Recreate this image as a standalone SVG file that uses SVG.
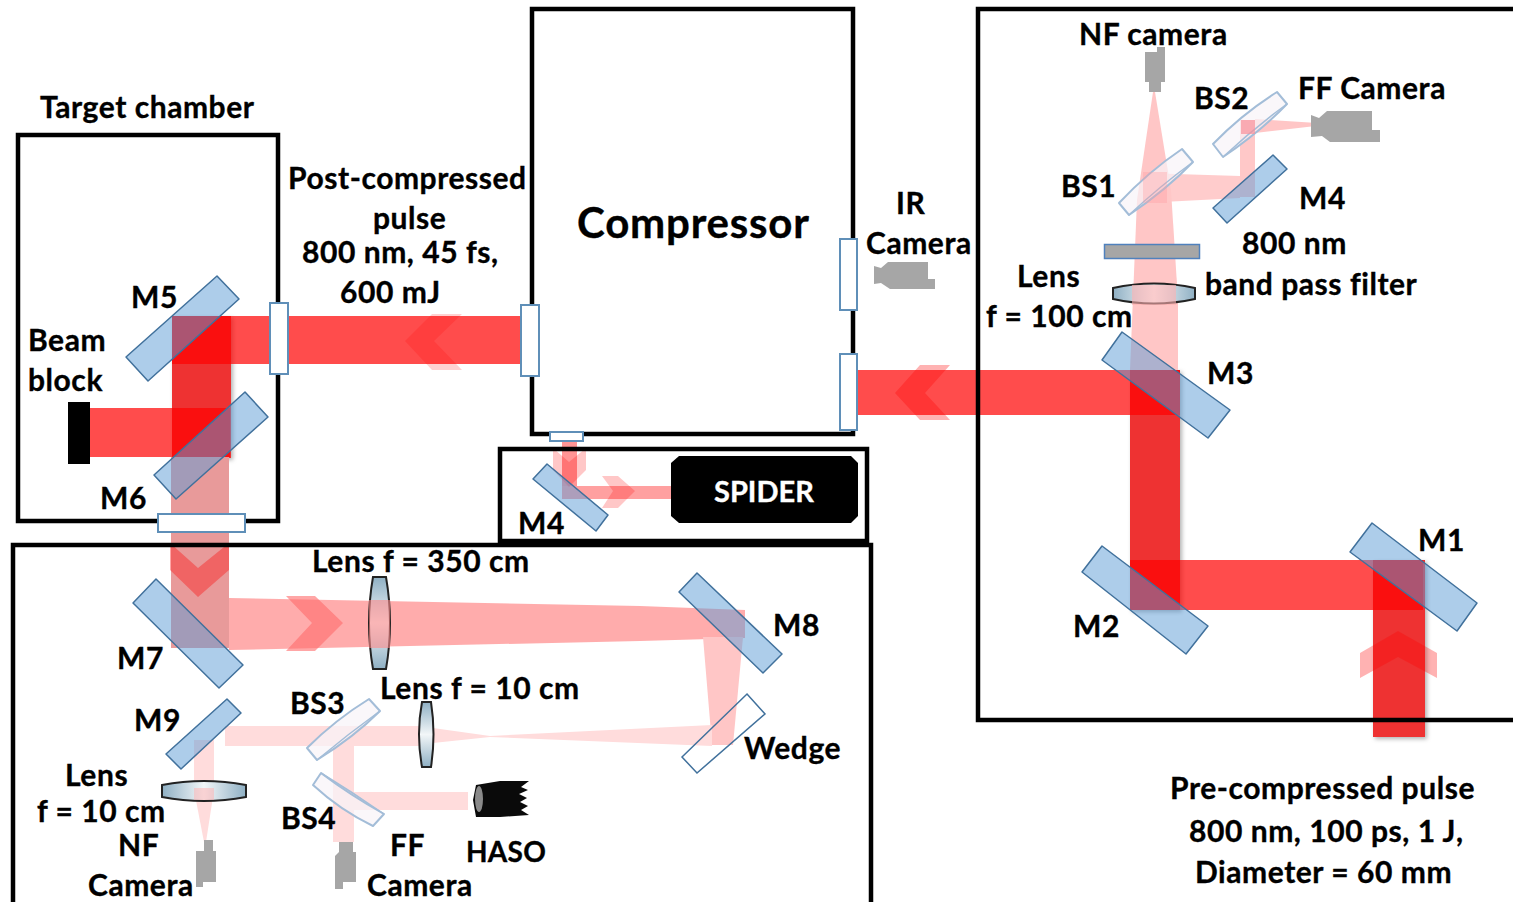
<svg xmlns="http://www.w3.org/2000/svg" width="1513" height="902" viewBox="0 0 1513 902">
<style>
text{font-family:"Lato","Open Sans","Liberation Sans",sans-serif;font-weight:700;font-size:30px;letter-spacing:.55px;fill:#000;stroke:#000;stroke-width:.35;transform:translateY(1px)}
.box{fill:none;stroke:#000;stroke-width:4.5}
.m{fill:#5b9bd5;fill-opacity:.5;stroke:#41719c;stroke-width:1.5;stroke-linejoin:round}
.bs{fill:#f8f4f8;fill-opacity:.7;stroke:#a3bdd8;stroke-width:2;stroke-linejoin:round}
.bsl{fill:none;stroke:#a3bdd8;stroke-width:1.5}
.w{fill:#fff;stroke:#5f8fb8;stroke-width:2}
.wedge{fill:none;stroke:#41719c;stroke-width:1.5}
.r{fill:#f00;fill-opacity:.7}
.rd{fill:#ee3333;filter:url(#sh)}
.p{fill:#ffa0a0;fill-opacity:.88}
.pv{fill:#e89a9a}
.l{fill:#ffc6c6}
.vl{fill:#ffdcdc}
.cam{fill:#a6a6a6}
.lens{fill:url(#lg);stroke:#222;stroke-width:2}
.lensv{fill:url(#lgv);stroke:#222;stroke-width:2}
</style>
<defs>
<linearGradient id="lg" x1="0" x2="1" y1="0" y2="0"><stop offset="0" stop-color="#8fb0c4"/><stop offset=".5" stop-color="#f2f6f8"/><stop offset="1" stop-color="#8fb0c4"/></linearGradient>
<linearGradient id="lgv" x1="0" x2="0" y1="0" y2="1"><stop offset="0" stop-color="#8fb0c4"/><stop offset=".5" stop-color="#f2f6f8"/><stop offset="1" stop-color="#8fb0c4"/></linearGradient>
<filter id="sh" x="-20%" y="-20%" width="140%" height="140%"><feDropShadow dx="2" dy="2" stdDeviation="2" flood-color="#000" flood-opacity=".3"/></filter>
</defs>
<rect width="1513" height="902" fill="#fff"/>

<g id="connectors">
<!-- main beams -->
<rect class="rd" x="1373" y="560" width="52" height="177"/>
<rect class="rd" x="1130" y="370" width="50" height="240"/>
<rect class="rd" x="172" y="316" width="59" height="142"/>
<rect class="r" x="1130" y="560" width="293" height="50"/>
<rect class="r" x="858" y="370" width="322" height="45"/>
<polygon fill="#f00" fill-opacity=".3" points="1360,653 1398,631 1437,653 1437,678 1398,657 1360,678"/>
<polygon fill="#f00" fill-opacity=".3" points="920,365 950,365 925,393 950,420 920,420 895,393"/>
<!-- top pale -->
<polygon class="l" points="1130,370 1178,370 1178,300 1171,190 1155,92 1153,92 1137,200"/>
<polygon class="l" fill-opacity=".9" points="1143,173 1240,176 1240,198 1143,203"/>
<rect x="1240" y="120" width="15" height="77" fill="#ffaaaa" fill-opacity=".65"/>
<polygon class="l" points="1255,119 1333,124 1255,133"/>
<!-- post compression -->
<rect class="r" x="172" y="316" width="348" height="48"/>
<rect class="r" x="90" y="408" width="140" height="49"/>
<polygon fill="#f00" fill-opacity=".18" points="432,314 462,314 434,341 462,370 432,370 405,341"/>
<rect class="pv" x="171" y="457" width="58" height="191"/>
<polygon fill="#f00" fill-opacity=".35" points="170,543 198,568 229,543 229,570 198,597 170,570"/>
<polygon class="p" points="229,598 640,606 745,610 745,638 640,641 229,650"/>
<polygon fill="#ff6a6a" fill-opacity=".6" points="286,596 315,596 343,623 315,651 286,651 312,623"/>
<polygon class="l" points="703,637 743,637 733,745 712,745"/>
<polygon class="vl" points="712,725 490,736 433,728 433,743 490,737 712,746"/>
<rect class="vl" x="225" y="726" width="194" height="20"/>
<rect class="vl" x="194" y="740" width="20" height="50"/>
<polygon class="vl" points="194,790 214,790 206,842 204,842"/>
<rect class="vl" x="333" y="741" width="21" height="101"/>
<rect class="vl" x="353" y="792" width="115" height="18"/>
<!-- spider -->
<rect x="562" y="441" width="15" height="57" fill="#ff7a7a" fill-opacity=".8"/>
<rect x="562" y="486" width="109" height="13" fill="#ffa0a0"/>
<polygon fill="#f00" fill-opacity=".22" points="553,448 569,462 586,448 586,470 569,487 553,470"/>
<polygon fill="#f00" fill-opacity=".22" points="602,476 618,476 635,491 618,508 602,508 613,491"/>
</g>

<g id="target-chamber"><rect class="box" x="18" y="135" width="260" height="386"/><text x="40" y="117">Target chamber</text></g>
<g id="compressor"><rect class="box" x="532" y="9" width="321" height="425"/><text x="577" y="237" style="font-size:42px;letter-spacing:.8px">Compressor</text></g>
<g id="right-box"><path class="box" d="M1513,9H978V720H1513"/></g>
<g id="spider-box"><rect class="box" x="500" y="449" width="367" height="92"/></g>
<g id="bottom-box"><path class="box" d="M13,902V545H871V902"/></g>

<g id="M1"><polygon class="m" points="1372,523 1477,603 1457,631 1350,552"/><text x="1418" y="550">M1</text></g>
<g id="M2"><polygon class="m" points="1102,546 1208,626 1186,654 1082,572"/><text x="1073" y="636">M2</text></g>
<g id="M3"><polygon class="m" points="1122,332 1230,410 1208,438 1102,360"/><text x="1207" y="383">M3</text></g>
<g id="M4-top"><polygon class="m" points="1273,155 1287,169 1227,223 1213,208"/><text x="1299" y="208">M4</text></g>
<g id="M4-spider"><polygon class="m" points="547,464 608,515 596,531 533,479"/><text x="518" y="533">M4</text></g>
<g id="M5"><polygon class="m" points="217,276 239,299 148,381 126,357"/><text x="131" y="307">M5</text></g>
<g id="M6"><polygon class="m" points="245,392 268,417 176,499 154,475"/><text x="100" y="508">M6</text></g>
<g id="M7"><polygon class="m" points="156,579 243,665 219,688 133,603"/><text x="117" y="668">M7</text></g>
<g id="M8"><polygon class="m" points="697,573 782,654 763,673 679,592"/><text x="773" y="635">M8</text></g>
<g id="M9"><polygon class="m" points="227,699 241,713 181,769 166,754"/><text x="134" y="730">M9</text></g>

<g id="wedge"><polygon class="wedge" points="747,694 765,714 697,773 682,757"/><text x="744" y="758">Wedge</text></g>
<g id="BS1"><path class="bs" d="M1182,149L1193,162Q1166,190 1129,215L1119,203Q1148,172 1182,149Z"/><path class="bsl" d="M1193,162Q1160,186 1129,215"/><polygon fill="#ff9aa0" fill-opacity=".35" points="1143,172 1167,172 1167,203 1143,203"/><text x="1061" y="196">BS1</text></g>
<g id="BS2"><path class="bs" d="M1277,92L1287,104Q1260,132 1223,157L1213,144Q1242,114 1277,92Z"/><path class="bsl" d="M1287,104Q1254,128 1223,157"/><rect x="1241" y="120" width="14" height="14" fill="#f8909a" fill-opacity=".7"/><text x="1194" y="108">BS2</text></g>
<g id="BS3"><path class="bs" d="M369,699L380,711Q354,737 317,760L307,748Q335,720 369,699Z"/><path class="bsl" d="M380,711Q348,734 317,760"/><text x="290" y="713">BS3</text></g>
<g id="BS4"><path class="bs" d="M321,773Q350,795 384,814L373,826Q340,810 313,785Z"/><path class="bsl" d="M321,773Q352,792 384,814"/><text x="281" y="828">BS4</text></g>

<g id="filter"><rect x="1104.500" y="244.500" width="95" height="14" fill="#a6a6a6" stroke="#4f81bd" stroke-width="1.500"/><text x="1242" y="253">800 nm</text><text x="1205" y="294">band pass filter</text></g>
<g id="lens-top"><path class="lens" d="M1113,288Q1154,279 1195,288V299Q1154,308 1113,299Z"/><rect x="1132" y="285" width="44" height="20" fill="#ffb0b0" fill-opacity=".6"/><text x="1017" y="286">Lens</text><text x="986" y="326">f = 100 cm</text></g>
<g id="lens-350"><path class="lensv" d="M373,577H386Q394,623 386,669H373Q365,623 373,577Z"/><rect x="369" y="600" width="21" height="48" fill="#ff8a8a" fill-opacity=".6"/><text x="312" y="571">Lens f = 350 cm</text></g>
<g id="lens-10"><path class="lensv" d="M422,702H431Q436,734 431,767H422Q416,734 422,702Z"/><text x="380" y="698">Lens f = 10 cm</text></g>
<g id="lens-m9"><path class="lens" d="M162,785Q204,777 246,785V797Q204,805 162,797Z"/><rect x="194" y="788" width="20" height="12" fill="#ffb0b0" fill-opacity=".5"/><text x="65" y="785">Lens</text><text x="37" y="821">f = 10 cm</text></g>

<g id="windows">
<rect class="w" x="270" y="303" width="18" height="71"/>
<rect class="w" x="521" y="305" width="18" height="71"/>
<rect class="w" x="158" y="514" width="87" height="18"/>
<rect class="w" x="840" y="239" width="17" height="71"/>
<rect class="w" x="840" y="354" width="17" height="76"/>
<rect class="w" x="550" y="432" width="33" height="9"/>
</g>

<g id="beam-block"><rect x="68" y="402" width="22" height="62" fill="#000"/><text x="28" y="350">Beam</text><text x="28" y="390">block</text></g>
<g id="spider"><path d="M679,456H851L858,463V516L851,523H679L671,516V463Z" fill="#000"/><text x="714" y="501" style="fill:#fff;stroke:#fff;font-size:29px;letter-spacing:0">SPIDER</text></g>

<g id="nf-camera-top"><polygon class="cam" points="1145,52 1157,52 1157,47 1165,47 1165,82 1161,82 1161,92 1149,92 1149,82 1145,82"/><text x="1079" y="44">NF camera</text></g>
<g id="ff-camera-top"><polygon class="cam" points="1311,115 1319,118 1327,111 1372,111 1372,130 1380,130 1380,142 1330,142 1322,136 1311,137"/><text x="1298" y="98">FF Camera</text></g>
<g id="ir-camera"><polygon class="cam" points="874,266 881,268 888,262 928,262 928,279 935,279 935,289 890,289 881,283 874,284"/><text x="896" y="213">IR</text><text x="866" y="253">Camera</text></g>
<g id="nf-camera-bottom"><polygon class="cam" points="204,840 213,840 213,851 216,851 216,882 203,882 203,887 196,887 196,851 204,851"/><text x="118" y="855">NF</text><text x="88" y="895">Camera</text></g>
<g id="ff-camera-bottom"><polygon class="cam" points="339,842 353,842 353,852 356,852 356,882 343,882 343,889 335,889 335,856 339,852"/><text x="390" y="855">FF</text><text x="367" y="895">Camera</text></g>
<g id="haso"><path d="M476,785L500,781L529,781L521,787L528,790L519,794L527,798L520,802L528,806L521,810L529,815L500,817H476L473,800Z" fill="#0a0a0a"/><ellipse cx="479" cy="799" rx="4" ry="13" fill="#8a8a8a"/><text x="466" y="861" style="font-size:28px;letter-spacing:.3px">HASO</text></g>

<g id="labels">
<text x="288" y="188">Post-compressed</text>
<text x="373" y="228">pulse</text>
<text x="302" y="262">800 nm, 45 fs,</text>
<text x="340" y="302">600 mJ</text>
<text x="1170" y="798">Pre-compressed pulse</text>
<text x="1189" y="841">800 nm, 100 ps, 1 J,</text>
<text x="1195" y="882">Diameter = 60 mm</text>
</g>
</svg>
